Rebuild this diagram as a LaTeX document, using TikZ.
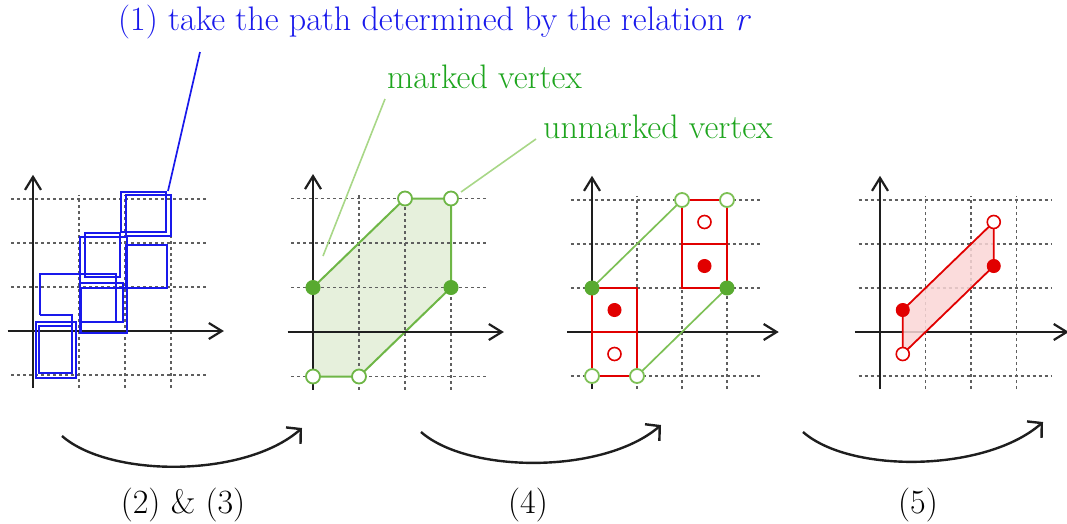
\documentclass[tikz,border=0pt]{standalone}
\usepackage{fontspec}
\usetikzlibrary{arrows.meta}
\definecolor{myblue}{RGB}{25,25,235}
\definecolor{txtgreen}{RGB}{30,165,30}
\definecolor{edgegreen}{RGB}{110,182,70}
\definecolor{lightedge}{RGB}{125,192,85}
\definecolor{leadgreen}{RGB}{168,215,135}
\definecolor{dotgreen}{RGB}{88,170,48}
\definecolor{fillgreen}{RGB}{230,240,220}
\definecolor{myred}{RGB}{225,0,0}
\definecolor{fillred}{RGB}{250,214,214}
\definecolor{gridgray}{RGB}{95,95,95}
\definecolor{axisblack}{RGB}{30,30,30}
\newcommand\mypanelgrid{%
  \foreach \yy in {-1,1,2,3} \draw[gridline] (-0.47,\yy) -- (3.78,\yy);
  \foreach \xx in {1,2,3} \draw[gridline] (\xx,-1.3) -- (\xx,3.08);
}
\newcommand\mypanelaxes{%
  \draw[axis] (-0.55,0) -- (4.15,0);
  \draw[axis] (0,-1.3) -- (0,3.55);
}
\begin{document}
\begin{tikzpicture}[x=1pt,y=-1pt,
  gridline/.style={draw=gridgray, line width=1.2pt, dash pattern=on 3pt off 3pt},
  axis/.style={draw=axisblack, line width=2.2pt, -{Straight Barb[length=13pt,width=16pt]}},
  bluebox/.style={draw=myblue, line width=2.1pt},
  greenedge/.style={draw=edgegreen, line width=2pt},
  thinedge/.style={draw=lightedge, line width=1.7pt},
  openv/.style={circle, draw=edgegreen, fill=white, line width=1.8pt, minimum size=14pt, inner sep=0pt},
  fullv/.style={circle, draw=dotgreen, fill=dotgreen, line width=1pt, minimum size=14pt, inner sep=0pt},
  redbox/.style={draw=myred, line width=2.6pt},
  redopen/.style={circle, draw=myred, fill=white, line width=1.6pt, minimum size=13pt, inner sep=0pt},
  redfull/.style={circle, draw=myred, fill=myred, line width=1pt, minimum size=13pt, inner sep=0pt},
  lbl/.style={font=\fontsize{34}{40}\selectfont, inner sep=0pt},
  leader/.style={draw=leadgreen, line width=1.6pt},
  flow/.style={draw=axisblack, line width=2.4pt, -{Straight Barb[length=10pt,width=22pt]}}]
\useasboundingbox (0,0) rectangle (1067,523);

% ---------- texts ----------
\node[lbl, text=myblue, anchor=base west] (t1) at (118,30) {(1) take the path determined by the relation {\itshape r}};
\node[lbl, text=txtgreen, anchor=base west] (t2) at (387,88) {marked vertex};
\node[lbl, text=txtgreen, anchor=base west] (t3) at (543,138) {unmarked vertex};
\node[lbl, anchor=base] (s1) at (183,513) {(2) \& (3)};
\node[lbl, anchor=base] (s2) at (528,513) {(4)};
\node[lbl, anchor=base] (s3) at (918,513) {(5)};

% ---------- panel 1 ----------
\begin{scope}[shift={(33,331)}, x=46pt, y=44pt]
  \mypanelgrid
  \mypanelaxes
\end{scope}
\draw[bluebox] (36,322) rectangle (76,378);
\draw[bluebox] (39,326) rectangle (72,373);
\draw[bluebox] (40,315) -- (40,274) -- (116,274) -- (116,322);
\draw[bluebox] (72,326) -- (72,315) -- (40,315);
\draw[bluebox] (80,283) rectangle (123,322);
\draw[bluebox] (81,288) rectangle (127,333);
\draw[bluebox] (80,237) rectangle (127,333);
\draw[bluebox] (85,233) rectangle (120,277);
\draw[bluebox] (126,245) rectangle (167,288);
\draw[bluebox] (121,192) rectangle (166,232);
\draw[bluebox] (126,195) rectangle (171,236);
\coordinate (bl1) at (168,191);
\coordinate (bl2) at (200,52);
\draw[draw=myblue, line width=1.7pt] (bl1) -- (bl2);

% ---------- panel 2 ----------
\begin{scope}[shift={(313,332)}, x=46pt, y=44.5pt]
  \coordinate (b1) at (0,-1);
  \coordinate (b2) at (1,-1);
  \coordinate (b3) at (3,1);
  \coordinate (b4) at (3,3);
  \coordinate (b5) at (2,3);
  \coordinate (b6) at (0,1);
  \fill[fillgreen] (b1) -- (b2) -- (b3) -- (b4) -- (b5) -- (b6) -- cycle;
  \mypanelgrid
  \draw[greenedge] (b1) -- (b2) -- (b3) -- (b4) -- (b5) -- (b6);
  \mypanelaxes
  \node[openv] (v1) at (b1) {};
  \node[openv] (v2) at (b2) {};
  \node[fullv] (v3) at (b3) {};
  \node[openv] (v4) at (b4) {};
  \node[openv] (v5) at (b5) {};
  \node[fullv] (v6) at (b6) {};
\end{scope}
\coordinate (ml1) at (323,256);
\coordinate (ml2) at (385,99);
\draw[leader] (ml1) -- (ml2);
\coordinate (ul1) at (461,192);
\coordinate (ul2) at (536,139);
\draw[leader] (ul1) -- (ul2);

% ---------- panel 3 ----------
\begin{scope}[shift={(592,332)}, x=45pt, y=44pt]
  \coordinate (c1) at (0,-1);
  \coordinate (c2) at (1,-1);
  \coordinate (c3) at (3,1);
  \coordinate (c4) at (3,3);
  \coordinate (c5) at (2,3);
  \coordinate (c6) at (0,1);
  \mypanelgrid
  \mypanelaxes
  \draw[thinedge] (c1) -- (c2) -- (c3) -- (c4) -- (c5) -- (c6) -- cycle;
  \draw[redbox] (0,-1) rectangle (1,1);
  \draw[redbox] (0,0) -- (1,0);
  \draw[redbox] (2,1) rectangle (3,3);
  \draw[redbox] (2,2) -- (3,2);
  \node[openv, draw=lightedge] (w1) at (c1) {};
  \node[openv, draw=lightedge] (w2) at (c2) {};
  \node[fullv] (w3) at (c3) {};
  \node[openv, draw=lightedge] (w4) at (c4) {};
  \node[openv, draw=lightedge] (w5) at (c5) {};
  \node[fullv] (w6) at (c6) {};
  \node[redfull] (r1) at (0.5,0.5) {};
  \node[redopen] (r2) at (0.5,-0.5) {};
  \node[redfull] (r3) at (2.5,1.5) {};
  \node[redopen] (r4) at (2.5,2.5) {};
\end{scope}

% ---------- panel 4 ----------
\begin{scope}[shift={(880,332)}, x=45.5pt, y=44pt]
  \coordinate (d1) at (0.5,-0.5);
  \coordinate (d2) at (0.5,0.5);
  \coordinate (d3) at (2.5,2.5);
  \coordinate (d4) at (2.5,1.5);
  \mypanelgrid
  \mypanelaxes
  \fill[fillred, opacity=0.85] (d1) -- (d2) -- (d3) -- (d4) -- cycle;
  \draw[draw=myred, line width=1.8pt] (d1) -- (d2) -- (d3) -- (d4) -- cycle;
  \node[redopen] (q1) at (d1) {};
  \node[redfull] (q2) at (d2) {};
  \node[redopen] (q3) at (d3) {};
  \node[redfull] (q4) at (d4) {};
\end{scope}

% ---------- flow arrows ----------
\coordinate (f1a) at (62,436);
\coordinate (f1b) at (302,428);
\draw[flow] (f1a) .. controls (110,478) and (245,478) .. (f1b);
\coordinate (f2a) at (421,432);
\coordinate (f2b) at (661,425);
\draw[flow] (f2a) .. controls (469,474) and (604,474) .. (f2b);
\coordinate (f3a) at (803,432);
\coordinate (f3b) at (1043,422);
\draw[flow] (f3a) .. controls (851,474) and (986,472) .. (f3b);
\end{tikzpicture}
\end{document}
